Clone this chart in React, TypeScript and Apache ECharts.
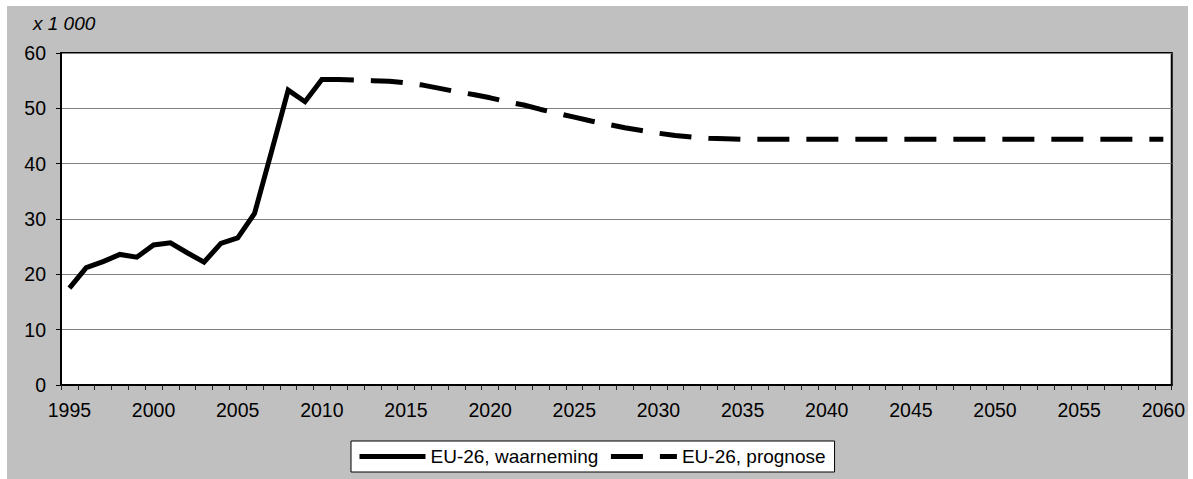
import React, { useEffect, useRef } from "react";
import * as echarts from "echarts";

const years: string[] = [
  "1995","1996","1997","1998","1999","2000","2001","2002","2003","2004",
  "2005","2006","2007","2008","2009","2010","2011","2012","2013","2014",
  "2015","2016","2017","2018","2019","2020","2021","2022","2023","2024",
  "2025","2026","2027","2028","2029","2030","2031","2032","2033","2034",
  "2035","2036","2037","2038","2039","2040","2041","2042","2043","2044",
  "2045","2046","2047","2048","2049","2050","2051","2052","2053","2054",
  "2055","2056","2057","2058","2059","2060",
];

// EU-26, waarneming: 1995–2011
const observedStart = "1995";
const observed: number[] = [
  17.5, 21.2, 22.3, 23.6, 23.1, 25.3, 25.7, 23.9, 22.2, 25.6,
  26.6, 31.0, 42.1, 53.3, 51.2, 55.2, 55.2,
];

// EU-26, prognose: 2010–2060
const forecastStart = "2010";
const forecast: number[] = [
  55.2, 55.2, 55.1, 55.0, 54.9, 54.6, 54.2, 53.6, 53.0, 52.5,
  51.9, 51.2, 50.6, 49.8, 49.1, 48.4, 47.7, 47.1, 46.5, 46.0,
  45.5, 45.1, 44.8, 44.6, 44.5, 44.4, 44.4, 44.4, 44.4, 44.4,
  44.4, 44.4, 44.4, 44.4, 44.4, 44.4, 44.4, 44.4, 44.4, 44.4,
  44.4, 44.4, 44.4, 44.4, 44.4, 44.4, 44.4, 44.4, 44.4, 44.4,
  44.4,
];

const yTicks = { min: 0, max: 60, interval: 10 };
const unitLabel = "x 1 000";
const seriesNames = ["EU-26, waarneming", "EU-26, prognose"];

function align(start: string, values: number[]): (number | null)[] {
  const offset = years.indexOf(start);
  return years.map((_, i) => {
    const j = i - offset;
    return j >= 0 && j < values.length ? values[j] : null;
  });
}

const FONT = "'Liberation Sans', Arial, sans-serif";

export default function App() {
  const ref = useRef<HTMLDivElement>(null);

  useEffect(() => {
    document.body.style.margin = "0";
    if (!ref.current) return;
    const chart = echarts.init(ref.current, undefined, { renderer: "svg" });
    chart.setOption({
      animation: false,
      backgroundColor: "#c0c0c0",
      textStyle: { fontFamily: FONT },
      graphic: [
        {
          type: "text",
          left: 26,
          top: 8,
          style: {
            text: unitLabel,
            font: `italic 19px ${FONT}`,
            fill: "#000",
          },
        },
      ],
      grid: {
        left: 54,
        top: 47,
        right: 15,
        bottom: 94,
        show: true,
        backgroundColor: "#fff",
        borderColor: "#000",
        borderWidth: 2,
      },
      legend: {
        left: 344,
        top: 435,
        itemWidth: 66,
        itemHeight: 14,
        itemGap: 10,
        padding: [6, 9, 6, 6],
        backgroundColor: "#fff",
        borderColor: "#000",
        borderWidth: 1,
        borderRadius: 0,
        textStyle: { fontSize: 19, color: "#000", fontFamily: FONT },
        lineStyle: { width: 5 },
        itemStyle: { opacity: 0 },
        data: seriesNames,
      },
      xAxis: {
        type: "category",
        data: years,
        boundaryGap: true,
        axisLine: { show: true, lineStyle: { color: "#000", width: 2 } },
        axisTick: {
          show: true,
          interval: 0,
          length: 5,
          lineStyle: { color: "#222", width: 1 },
        },
        axisLabel: {
          interval: 4,
          margin: 15,
          fontSize: 19.5,
          color: "#000",
          fontFamily: FONT,
        },
        splitLine: { show: false },
      },
      yAxis: {
        type: "value",
        min: yTicks.min,
        max: yTicks.max,
        interval: yTicks.interval,
        axisLine: { show: true, lineStyle: { color: "#000", width: 2 } },
        axisTick: {
          show: true,
          length: 5,
          lineStyle: { color: "#000", width: 1 },
        },
        axisLabel: {
          margin: 15,
          fontSize: 19.5,
          color: "#000",
          fontFamily: FONT,
        },
        splitLine: { show: true, lineStyle: { color: "#808080", width: 1 } },
      },
      series: [
        {
          name: seriesNames[0],
          type: "line",
          data: align(observedStart, observed),
          symbol: "none",
          connectNulls: false,
          lineStyle: { color: "#000", width: 5, join: "miter" },
          itemStyle: { color: "#000" },
          z: 3,
        },
        {
          name: seriesNames[1],
          type: "line",
          data: align(forecastStart, forecast),
          symbol: "none",
          connectNulls: false,
          lineStyle: { color: "#000", width: 5, type: [32, 17] },
          itemStyle: { color: "#000" },
          z: 4,
        },
      ],
    });
    return () => chart.dispose();
  }, []);

  return (
    <div
      style={{
        position: "relative",
        width: 1193,
        height: 479,
        background: "#fff",
        overflow: "hidden",
      }}
    >
      <div
        ref={ref}
        style={{ position: "absolute", left: 7, top: 6, width: 1181, height: 473 }}
      />
    </div>
  );
}
